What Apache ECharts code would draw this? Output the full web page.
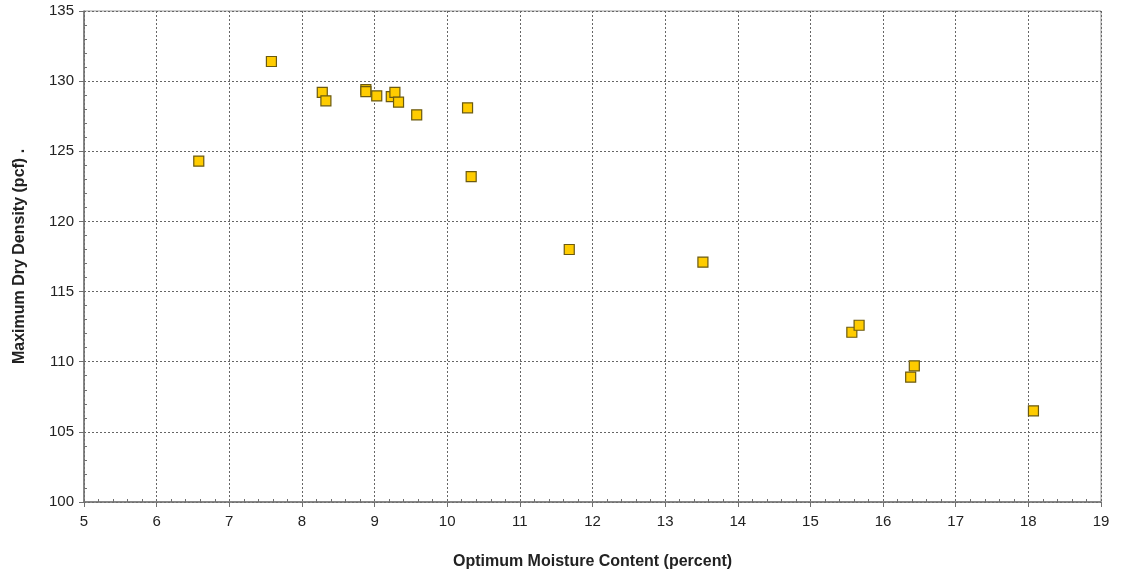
<!DOCTYPE html>
<html><head><meta charset="utf-8">
<script src="https://cdn.jsdelivr.net/npm/echarts@6/dist/echarts.min.js"></script>
<style>html,body{margin:0;padding:0;background:#fff}#c{width:1121px;height:575px}</style>
</head><body><div id="c"></div>
<script>
const moisture = [6.58, 7.58, 8.28, 8.33, 8.88, 8.88, 9.03, 9.23, 9.28, 9.33, 9.58, 10.28, 10.33, 11.68, 13.52, 15.57, 15.67, 16.43, 16.38, 18.07];
const density  = [124.3, 131.4, 129.2, 128.6, 129.4, 129.25, 128.95, 128.9, 129.2, 128.5, 127.6, 128.1, 123.2, 118.0, 117.1, 112.1, 112.6, 109.7, 108.9, 106.5];
const xName = 'Optimum Moisture Content (percent)';
const yName = 'Maximum Dry Density (pcf) .';

const points = moisture.map((m, i) => [m, density[i]]);
const font = 'Liberation Sans, Arial, sans-serif';
const axisGray = '#707070';
const gridLine = {show: true, lineStyle: {color: '#666', type: [2, 2], width: 1}};

const chart = echarts.init(document.getElementById('c'));
chart.setOption({
  animation: false,
  grid: {left: 84, right: 20, top: 11, bottom: 73, show: true, borderColor: '#9a9a9a', borderWidth: 1},
  xAxis: [{
    type: 'value', min: 5, max: 19, interval: 1,
    name: xName, nameLocation: 'middle', nameGap: 52,
    nameTextStyle: {fontFamily: font, fontSize: 16, fontWeight: 'bold', color: '#222'},
    axisLine: {show: true, lineStyle: {color: axisGray, width: 1.5}},
    axisTick: {show: true, length: 5, lineStyle: {color: axisGray}},
    axisLabel: {fontFamily: font, fontSize: 15, color: '#222', margin: 12},
    splitLine: gridLine
  }, {
    type: 'value', min: 5, max: 19, interval: 1, position: 'bottom',
    axisLine: {show: false}, axisLabel: {show: false}, splitLine: {show: false},
    axisTick: {show: false, inside: true},
    minorTick: {show: true, splitNumber: 5, length: 3, lineStyle: {color: axisGray}}
  }],
  yAxis: [{
    type: 'value', min: 100, max: 135, interval: 5,
    name: yName, nameLocation: 'middle', nameGap: 56, nameRotate: 90,
    nameTextStyle: {fontFamily: font, fontSize: 16, fontWeight: 'bold', color: '#222'},
    axisLine: {show: true, lineStyle: {color: axisGray, width: 1.5}},
    axisTick: {show: true, length: 5, lineStyle: {color: axisGray}},
    axisLabel: {fontFamily: font, fontSize: 15, color: '#222', margin: 10},
    splitLine: gridLine
  }, {
    type: 'value', min: 100, max: 135, interval: 5, position: 'left',
    axisLine: {show: false}, axisLabel: {show: false}, splitLine: {show: false},
    axisTick: {show: false, inside: true},
    minorTick: {show: true, splitNumber: 5, length: 3, lineStyle: {color: axisGray}}
  }],
  series: [{
    type: 'scatter', xAxisIndex: 0, yAxisIndex: 0,
    data: points, symbol: 'rect', symbolSize: 10,
    itemStyle: {color: '#FFCC00', borderColor: '#6b5a10', borderWidth: 1.2, opacity: 1}
  }]
});
</script></body></html>
